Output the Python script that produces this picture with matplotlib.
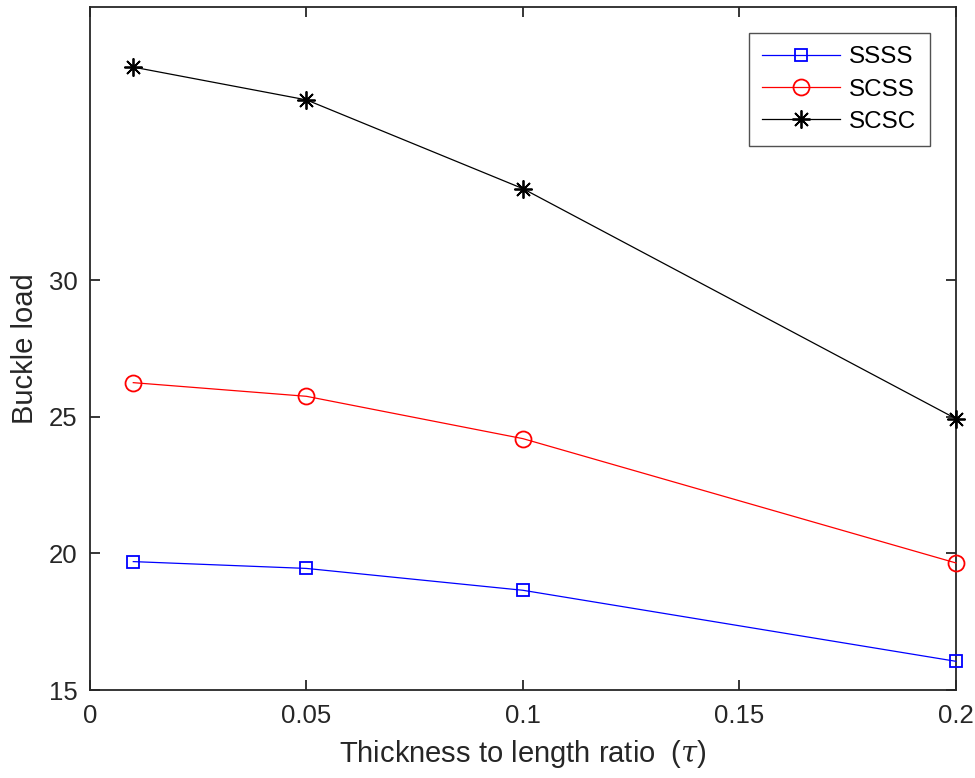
import matplotlib
matplotlib.use("Agg")
import matplotlib.pyplot as plt

plt.rcParams['font.family'] = ['Liberation Sans', 'DejaVu Sans']
plt.rcParams['mathtext.fontset'] = 'dejavuserif'

# Thickness-to-length ratios and buckling loads per boundary condition
tau = [0.01, 0.05, 0.1, 0.2]
ssss = [19.7, 19.45, 18.65, 16.05]
scss = [26.25, 25.75, 24.2, 19.65]
scsc = [37.8, 36.6, 33.35, 24.93]

xticks = [0, 0.05, 0.1, 0.15, 0.2]
xtick_labels = ['0', '0.05', '0.1', '0.15', '0.2']
yticks = [15, 20, 25, 30]
ytick_labels = ['15', '20', '25', '30']

fig = plt.figure(figsize=(9.75, 7.78), dpi=100)
ax = fig.add_axes([0.0923, 0.1131, 0.8882, 0.8779])

ax.plot(tau, ssss, color='blue', lw=0.9, marker='s', ms=9, mfc='none',
        mew=1.3, label='SSSS', clip_on=False, zorder=3)
ax.plot(tau, scss, color='red', lw=0.9, marker='o', ms=11.5, mfc='none',
        mew=1.3, label='SCSS', clip_on=False, zorder=3)
ax.plot(tau, scsc, color='black', lw=0.9, marker=(8, 2, 0), ms=13,
        mew=1.3, label='SCSC', clip_on=False, zorder=3)

ax.set_xlim(0, 0.2)
ax.set_ylim(15, 40)
ax.set_xticks(xticks)
ax.set_xticklabels(xtick_labels)
ax.set_yticks(yticks)
ax.set_yticklabels(ytick_labels)

edge = '#262626'
for s in ax.spines.values():
    s.set_color(edge)
    s.set_linewidth(1.3)
ax.tick_params(direction='in', length=7, width=1.3, colors=edge,
               labelsize=18.5, top=True, right=True)
ax.tick_params(axis='x', pad=10)
ax.tick_params(axis='y', pad=9)

ax.set_xlabel(r'Thickness to length ratio  ($\tau$)', fontsize=21,
              color=edge, labelpad=7)
ax.set_ylabel('Buckle load', fontsize=21, color=edge, labelpad=7)

leg = ax.legend(loc='upper right', bbox_to_anchor=(0.970, 0.962),
                fontsize=17.5, frameon=True, fancybox=False,
                edgecolor=edge, borderpad=0.55, handlelength=3.2,
                labelspacing=0.42, handletextpad=0.4, borderaxespad=0)
leg.get_frame().set_linewidth(1.0)

fig.savefig('out.png', dpi=100)
